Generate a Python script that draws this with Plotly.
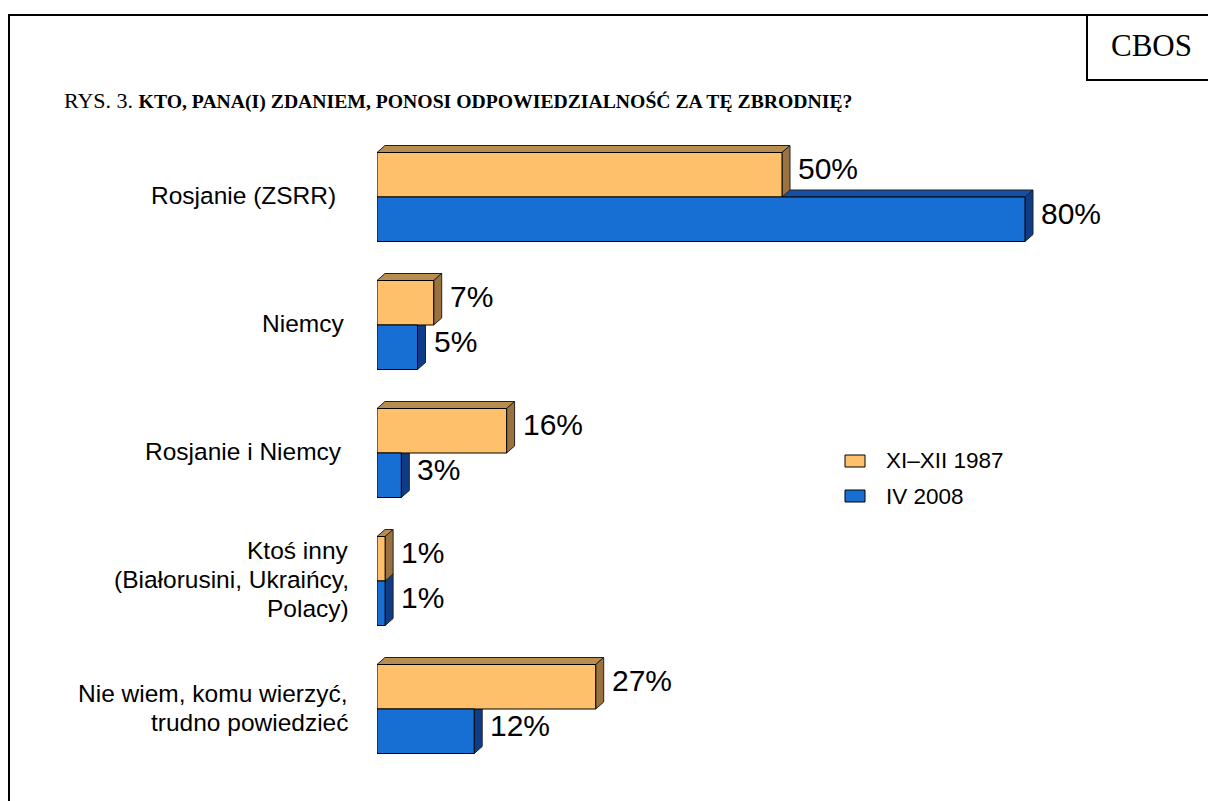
import plotly.graph_objects as go

# ---------------- data ----------------
categories = [
    "Rosjanie (ZSRR)",
    "Niemcy",
    "Rosjanie i Niemcy",
    "Ktoś inny\n(Białorusini, Ukraińcy,\nPolacy)",
    "Nie wiem, komu wierzyć,\ntrudno powiedzieć",
]
series_names = ["XI–XII 1987", "IV 2008"]
values_1987 = [50, 7, 16, 1, 27]
values_2008 = [80, 5, 3, 1, 12]
title_prefix = "RYS. 3. "
title_main = "KTO, PANA(I) ZDANIEM, PONOSI ODPOWIEDZIALNOŚĆ ZA TĘ ZBRODNIĘ?"
source_label = "CBOS"

# ---------------- styling ----------------
W, H = 1208, 801
L, R, T, B = 377, 21, 120, 15
PW, PH = W - L - R, H - T - B
X_RANGE = [0, 100]
PX_PER_UNIT_Y = 128.0
Y0 = -(197 - T) / PX_PER_UNIT_Y
Y_RANGE = [Y0 + PH / PX_PER_UNIT_Y, Y0]  # reversed

BAR_H = 44.5 / PX_PER_UNIT_Y
DX = 8 / (PW / (X_RANGE[1] - X_RANGE[0]))
DY = 7 / PX_PER_UNIT_Y

# right edge (px) of each category label block
LABEL_RIGHT_PX = [338, 346, 344, 351, 350]

colors = {
    "front": ["#FFC06B", "#186FD3"],
    "top": ["#B98C50", "#154FA6"],
    "side": ["#9A7240", "#0F3C86"],
}
SANS = "Liberation Sans, Arial, sans-serif"
SERIF = "Liberation Serif, Times New Roman, serif"


def px2x(px):
    return (px - L) / PW


def py2y(py):
    return 1 - (py - T) / PH


positions = list(range(len(categories)))
series_values = [values_1987, values_2008]
offsets = [-BAR_H, 0.0]

fig = go.Figure()
for s, (name, vals) in enumerate(zip(series_names, series_values)):
    fig.add_trace(go.Bar(
        orientation="h", x=vals, y=positions, name=name,
        width=BAR_H, offset=offsets[s],
        marker=dict(color=colors["front"][s], line=dict(color="#000000", width=1)),
        showlegend=False, hoverinfo="skip",
    ))

shapes = []
# 3D faces: blue (2008) first, then orange (1987) so the latter lies on top
for s in [1, 0]:
    vals = series_values[s]
    for i, v in zip(positions, vals):
        top = i + offsets[s]
        bot = top + BAR_H
        top_path = (f"M 0,{top} L {DX},{top - DY} L {v + DX},{top - DY} "
                    f"L {v},{top} Z")
        side_path = (f"M {v},{top} L {v + DX},{top - DY} L {v + DX},{bot - DY} "
                     f"L {v},{bot} Z")
        shapes.append(dict(type="path", path=top_path, xref="x", yref="y",
                           fillcolor=colors["top"][s], layer="below",
                           line=dict(color="#222222", width=1)))
        shapes.append(dict(type="path", path=side_path, xref="x", yref="y",
                           fillcolor=colors["side"][s], layer="below",
                           line=dict(color="#222222", width=1)))

# frame lines
shapes.append(dict(type="line", xref="paper", yref="paper",
                   x0=px2x(8), x1=px2x(W + 5), y0=py2y(15), y1=py2y(15),
                   line=dict(color="#000", width=2)))
shapes.append(dict(type="line", xref="paper", yref="paper",
                   x0=px2x(9), x1=px2x(9), y0=py2y(14), y1=py2y(H + 5),
                   line=dict(color="#000", width=2)))
# CBOS box
shapes.append(dict(type="line", xref="paper", yref="paper",
                   x0=px2x(1087), x1=px2x(1087), y0=py2y(15), y1=py2y(81),
                   line=dict(color="#000", width=2)))
shapes.append(dict(type="line", xref="paper", yref="paper",
                   x0=px2x(1086), x1=px2x(W + 5), y0=py2y(80), y1=py2y(80),
                   line=dict(color="#000", width=2)))

annotations = []
# category labels
LINE_H = 29
for i, cat in zip(positions, categories):
    lines = cat.split("\n")
    n = len(lines)
    for k, ln in enumerate(lines):
        annotations.append(dict(
            text=ln, xref="paper", yref="y", x=px2x(LABEL_RIGHT_PX[i]), y=i - 0.01,
            xanchor="right", yanchor="middle", showarrow=False,
            yshift=((n - 1) / 2 - k) * LINE_H,
            font=dict(family=SANS, size=24.5, color="#000")))

# value labels
for s, vals in enumerate(series_values):
    for i, v in zip(positions, vals):
        annotations.append(dict(
            text=f"{v}%", xref="x", yref="y", x=v,
            y=i + offsets[s] + BAR_H / 2,
            xanchor="left", yanchor="middle", showarrow=False,
            xshift=14, yshift=6,
            font=dict(family=SANS, size=30, color="#000")))

# legend (manual)
leg_y = [461, 496]
for s, name in enumerate(series_names):
    shapes.append(dict(type="rect", xref="paper", yref="paper",
                       x0=px2x(845), x1=px2x(865),
                       y0=py2y(leg_y[s] - 6), y1=py2y(leg_y[s] + 6),
                       fillcolor=colors["front"][s],
                       line=dict(color="#000", width=1)))
    annotations.append(dict(
        text=name, xref="paper", yref="paper", x=px2x(884), y=py2y(leg_y[s]),
        xanchor="left", yanchor="middle", showarrow=False,
        font=dict(family=SANS, size=22.5, color="#000")))

# title
annotations.append(dict(
    text=f"{title_prefix}<b><span style='font-size:19.7px'>{title_main}</span></b>",
    xref="paper", yref="paper",
    x=px2x(62), y=py2y(100), xanchor="left", yanchor="middle", showarrow=False,
    font=dict(family=SERIF, size=22, color="#000")))
# CBOS
annotations.append(dict(
    text=source_label, xref="paper", yref="paper", x=px2x(1151), y=py2y(46),
    xanchor="center", yanchor="middle", showarrow=False,
    font=dict(family=SERIF, size=31, color="#000")))

fig.update_layout(
    width=W, height=H, autosize=False,
    margin=dict(l=L, r=R, t=T, b=B, pad=0),
    paper_bgcolor="white", plot_bgcolor="white",
    xaxis=dict(range=X_RANGE, visible=False, fixedrange=True),
    yaxis=dict(range=Y_RANGE, visible=False, fixedrange=True),
    shapes=shapes, annotations=annotations,
    barmode="overlay",
)

fig.write_html("out.html", post_script="document.body.style.margin='0';",
               config={"displayModeBar": False})
